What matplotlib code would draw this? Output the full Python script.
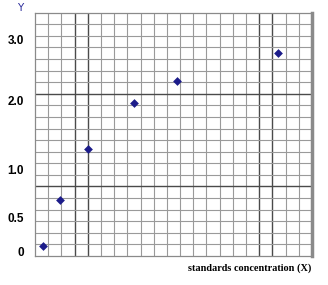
import numpy as np
import matplotlib
matplotlib.use('Agg')
import matplotlib.pyplot as plt

# grid units: 21 x 21 cells
n_cols = 21
n_rows = 21
dark_cols = [3, 4, 17, 18]
dark_rows = [6, 14]

# points, in grid cells
x_pts = [0.63, 1.92, 4.0, 7.5, 10.73, 18.4]
y_pts = [0.86, 4.84, 9.2, 13.2, 15.08, 17.5]

# y tick labels and where they sit on the grid
ytick_pos = [0.4, 3.3, 7.5, 13.4, 18.7]
ytick_labels = ['0', '0.5', '1.0', '2.0', '3.0']

fig = plt.figure(figsize=(3.28, 2.85), dpi=100)
ax = fig.add_axes([35 / 328, 1 - 256 / 285, 277 / 328, 243.3 / 285])
ax.set_xlim(0, n_cols)
ax.set_ylim(0, n_rows)

for c in range(1, n_cols):
    dark = c in dark_cols
    ax.axvline(c, color='#4a4a4a' if dark else '#9a9a9a', lw=1.0 if dark else 0.8, zorder=1)
for r in range(1, n_rows):
    dark = r in dark_rows
    ax.axhline(r, color='#4a4a4a' if dark else '#9a9a9a', lw=1.0 if dark else 0.8, zorder=1)

ax.scatter(x_pts, y_pts, marker='D', s=20, color='#1c1c8a', zorder=3, linewidths=0)

for side in ['left', 'top', 'bottom']:
    ax.spines[side].set_color('#8a8a8a')
    ax.spines[side].set_linewidth(0.9)
ax.spines['right'].set_color('#8a8a8a')
ax.spines['right'].set_linewidth(2.5)

ax.set_xticks([])
ax.set_yticks(ytick_pos)
ax.set_yticklabels(ytick_labels, fontsize=8.5, fontweight='bold', family='Liberation Sans')
ax.tick_params(axis='y', length=0, pad=8)

fig.text(20 / 328, 1 - 8 / 285, 'Y', color='#2a2a9a', fontsize=7.5, ha='center', va='center',
         family='DejaVu Sans')
fig.text(311 / 328, 1 - 268 / 285, 'standards concentration (X)', fontsize=7.4,
         fontweight='bold', family='Liberation Serif', ha='right', va='center')

fig.savefig('out.png', dpi=100)
